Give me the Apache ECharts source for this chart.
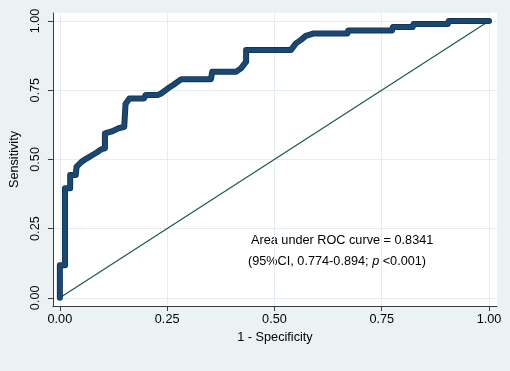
<!DOCTYPE html>
<html>
<head>
<meta charset="utf-8">
<script src="https://cdn.jsdelivr.net/npm/echarts@6/dist/echarts.min.js"></script>
<style>
html,body{margin:0;padding:0;background:#eaf2f3;}
#chart{width:510px;height:371px;}
</style>
</head>
<body>
<div id="chart"></div>
<script>
// ROC curve vertices (1 - specificity, sensitivity)
var rocFpr = [0.000, 0.000, 0.012, 0.012, 0.024, 0.024, 0.037, 0.039, 0.051, 0.062, 0.074, 0.086, 0.097, 0.105, 0.105, 0.121, 0.136, 0.150, 0.153, 0.153, 0.162, 0.196, 0.200, 0.229, 0.237, 0.252, 0.264, 0.283, 0.352, 0.355, 0.411, 0.422, 0.434, 0.434, 0.538, 0.550, 0.561, 0.573, 0.592, 0.670, 0.672, 0.774, 0.776, 0.822, 0.824, 0.904, 0.906, 1.000];
var rocTpr = [0.000, 0.118, 0.118, 0.396, 0.396, 0.444, 0.444, 0.474, 0.492, 0.503, 0.514, 0.525, 0.537, 0.540, 0.594, 0.601, 0.612, 0.618, 0.620, 0.700, 0.720, 0.720, 0.733, 0.733, 0.739, 0.757, 0.769, 0.790, 0.790, 0.817, 0.817, 0.829, 0.853, 0.895, 0.895, 0.919, 0.931, 0.946, 0.955, 0.955, 0.966, 0.966, 0.978, 0.978, 0.989, 0.989, 1.000, 1.000];
// reference (chance) line
var refFpr = [0, 1];
var refTpr = [0, 1];
// tick values
var tickValues = [0, 0.25, 0.5, 0.75, 1];
var xName = '1 - Specificity';
var yName = 'Sensitivity';
var aucLine1 = 'Area under ROC curve = 0.8341';

var rocData = rocFpr.map(function (v, i) { return [v, rocTpr[i]]; });
var refData = refFpr.map(function (v, i) { return [v, refTpr[i]]; });

var FONT = '"Liberation Sans", Arial, Helvetica, sans-serif';
var FS = 12.7;
var axisColor = '#3a3a3a';
var gridColor = '#e4edf1';

var chart = echarts.init(document.getElementById('chart'), null, {renderer: 'canvas'});
chart.setOption({
  backgroundColor: '#eaf2f3',
  animation: false,
  grid: {
    left: 51, right: 13, top: 13, bottom: 65,
    show: true, backgroundColor: '#ffffff', borderWidth: 0
  },
  xAxis: {
    type: 'value',
    min: -0.01624, max: 1.01856,
    name: xName, nameLocation: 'middle', nameGap: 23,
    nameTextStyle: {fontFamily: FONT, fontSize: FS, color: '#000'},
    axisLine: {show: true, onZero: false, lineStyle: {color: axisColor, width: 1}},
    axisTick: {show: true, length: 5, customValues: tickValues, lineStyle: {color: axisColor}},
    axisLabel: {customValues: tickValues, margin: 7, fontFamily: FONT, fontSize: FS, color: '#000',
      formatter: function (v) { return v.toFixed(2); }},
    splitLine: {show: true, lineStyle: {color: gridColor, width: 1}}
  },
  yAxis: {
    type: 'value',
    min: -0.0296, max: 1.0289,
    name: yName, nameLocation: 'middle', nameGap: 25,
    nameTextStyle: {fontFamily: FONT, fontSize: FS, color: '#000'},
    axisLine: {show: true, onZero: false, lineStyle: {color: axisColor, width: 1}},
    axisTick: {show: true, length: 5, customValues: tickValues, lineStyle: {color: axisColor}},
    axisLabel: {customValues: tickValues, rotate: 90, margin: 11, fontFamily: FONT, fontSize: FS, color: '#000',
      formatter: function (v) { return v.toFixed(2); }},
    splitLine: {show: true, lineStyle: {color: gridColor, width: 1}}
  },
  series: [
    {
      type: 'line', data: refData, symbol: 'none', silent: true,
      lineStyle: {color: '#1b5a45', width: 1.2}, z: 2
    },
    {
      type: 'line', data: rocData, symbol: 'none', silent: true,
      lineStyle: {color: '#123656', width: 6, cap: 'round', join: 'round'}, z: 3
    },
    {
      type: 'line', data: rocData, symbol: 'none', silent: true,
      lineStyle: {color: '#1b4872', width: 4.2, cap: 'round', join: 'round'}, z: 4
    }
  ],
  graphic: [
    {
      type: 'text', left: 251, top: 234, silent: true,
      style: {text: aucLine1, fontFamily: FONT, fontSize: FS, fill: '#000'}
    },
    {
      type: 'text', left: 248, top: 255, silent: true,
      style: {
        text: '(95%CI, 0.774-0.894; {i|p} <0.001)',
        fontFamily: FONT, fontSize: FS, fill: '#000',
        rich: {i: {fontFamily: FONT, fontSize: FS, fontStyle: 'italic', fill: '#000'}}
      }
    }
  ]
});
</script>
</body>
</html>
